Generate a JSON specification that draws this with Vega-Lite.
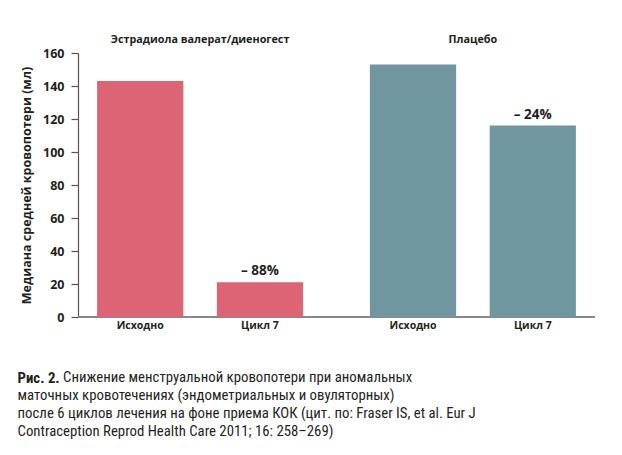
{
  "$schema": "https://vega.github.io/schema/vega-lite/v6.json",
  "width": 517,
  "height": 264,
  "autosize": {"type": "none"},
  "padding": {"left": 78, "top": 53, "right": 27, "bottom": 138},
  "background": "white",
  "config": {"view": {"stroke": null}, "font": "Open Sans"},
  "title": {
    "text": "Рис. 2.",
    "orient": "bottom",
    "anchor": "start",
    "frame": "bounds",
    "offset": 39,
    "dx": -3,
    "font": "Roboto Condensed, Roboto",
    "fontSize": 14.8,
    "fontWeight": "bold",
    "color": "#231f20",
    "subtitle": [
      "\u200b\u2003\u2003\u2003\u2002Снижение менструальной кровопотери при аномальных",
      "маточных кровотечениях (эндометриальных и овуляторных)",
      "после 6 циклов лечения на фоне приема КОК (цит. по: Fraser IS, et al. Eur J",
      "Contraception Reprod Health Care 2011; 16: 258–269)"
    ],
    "subtitleFont": "Roboto Condensed, Roboto",
    "subtitleFontSize": 14.8,
    "subtitleColor": "#231f20",
    "subtitleLineHeight": 18,
    "subtitlePadding": -15.5
  },
  "data": {
    "values": [
      {"group": "Эстрадиола валерат/диеногест", "period": "Исходно", "value": 143, "label": null},
      {"group": "Эстрадиола валерат/диеногест", "period": "Цикл 7", "value": 21, "label": "– 88%"},
      {"group": "Плацебо", "period": "Исходно", "value": 153, "label": null},
      {"group": "Плацебо", "period": "Цикл 7", "value": 116, "label": "– 24%"}
    ]
  },
  "encoding": {
    "y": {
      "field": "value",
      "type": "quantitative",
      "scale": {"domain": [0, 160]},
      "axis": {
        "title": "Медиана средней кровопотери (мл)",
        "titleFont": "Open Sans",
        "titleFontSize": 12.5,
        "titleFontWeight": "bold",
        "titleColor": "#231f20",
        "titlePadding": 9,
        "values": [0, 20, 40, 60, 80, 100, 120, 140, 160],
        "labelOverlap": false,
        "grid": false,
        "domainColor": "#555555",
        "domainWidth": 1.2,
        "tickColor": "#555555",
        "tickSize": 7,
        "tickWidth": 1.2,
        "labelFont": "Open Sans",
        "labelFontSize": 12.5,
        "labelFontWeight": "bold",
        "labelColor": "#231f20",
        "labelPadding": 7
      }
    }
  },
  "layer": [
    {
      "mark": {"type": "rule", "color": "#888888", "strokeWidth": 2},
      "encoding": {
        "y": {"datum": 0, "type": "quantitative"}
      }
    },
    {
      "mark": {"type": "bar"},
      "encoding": {
        "x": {
          "field": "group",
          "type": "nominal",
          "sort": null,
          "scale": {"paddingInner": 0.245, "paddingOuter": 0.07},
          "axis": {
            "orient": "top",
            "title": null,
            "ticks": false,
            "domain": false,
            "labelAngle": 0,
            "labelFont": "Open Sans",
            "labelFontWeight": "bold",
            "labelFontSize": 10.8,
            "labelColor": "#231f20",
            "labelPadding": 9
          }
        },
        "xOffset": {
          "field": "period",
          "type": "nominal",
          "sort": null,
          "scale": {"paddingInner": 0.28, "paddingOuter": 0}
        },
        "color": {
          "field": "group",
          "type": "nominal",
          "scale": {
            "domain": ["Эстрадиола валерат/диеногест", "Плацебо"],
            "range": ["#dc6474", "#7096a0"]
          },
          "legend": null
        }
      }
    },
    {
      "transform": [{"filter": "datum.label != null"}],
      "mark": {"type": "text", "baseline": "bottom", "dy": -4, "fontSize": 13.5, "fontWeight": "bold", "color": "#231f20", "font": "Open Sans"},
      "encoding": {
        "x": {"field": "group", "type": "nominal", "sort": null},
        "xOffset": {"field": "period", "type": "nominal", "sort": null},
        "text": {"field": "label"}
      }
    },
    {
      "mark": {"type": "text", "baseline": "top", "dy": 4, "fontSize": 10.5, "fontWeight": "bold", "color": "#231f20", "font": "Open Sans"},
      "encoding": {
        "x": {"field": "group", "type": "nominal", "sort": null},
        "xOffset": {"field": "period", "type": "nominal", "sort": null},
        "y": {"datum": 0, "type": "quantitative"},
        "text": {"field": "period"}
      }
    }
  ]
}
